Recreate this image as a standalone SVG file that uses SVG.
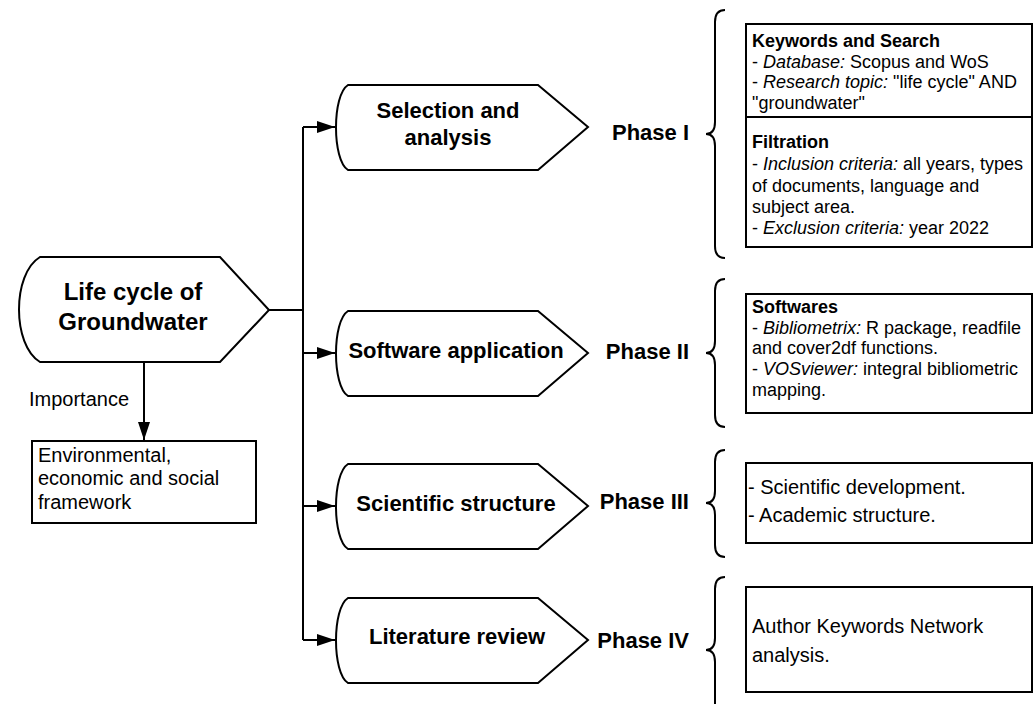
<svg xmlns="http://www.w3.org/2000/svg" width="1034" height="704" viewBox="0 0 1034 704">
<defs>
<style>
.shape{fill:#fff;stroke:#000;stroke-width:2}
.line{fill:none;stroke:#000;stroke-width:2}
.brace{fill:none;stroke:#000;stroke-width:2}
.tb{font-family:"Liberation Sans",Arial,sans-serif;font-weight:bold;fill:#000}
.t{font-family:"Liberation Sans",Arial,sans-serif;fill:#000}
.i{font-style:italic}
</style>
<marker id="arr" viewBox="0 0 18 12" refX="18" refY="6" markerWidth="18" markerHeight="12" markerUnits="userSpaceOnUse" orient="auto">
<path d="M0,0 L18,6 L0,12 Z" fill="#000"/>
</marker>
</defs>
<rect width="1034" height="704" fill="#fff"/>

<g id="connectors">
<path class="line" d="M269,310 H303"/>
<path class="line" d="M303,127 V640"/>
<path class="line" d="M303,127 H335" marker-end="url(#arr)"/>
<path class="line" d="M303,353 H335" marker-end="url(#arr)"/>
<path class="line" d="M303,506 H335" marker-end="url(#arr)"/>
<path class="line" d="M303,640 H335" marker-end="url(#arr)"/>
<path class="line" d="M144,362 V440" marker-end="url(#arr)"/>
<text class="t" x="29" y="406" font-size="20">Importance</text>
</g>

<g id="main-node">
<path class="shape" d="M40,257 L220,257 L269,310 L220,362 L40,362 C12,345 12,274 40,257 Z"/>
<text class="tb" font-size="24" text-anchor="middle"><tspan x="133" y="300">Life cycle of</tspan><tspan x="133" y="330">Groundwater</tspan></text>
</g>

<g id="importance-box">
<rect class="shape" x="32" y="441" width="224" height="82"/>
<text class="t" font-size="20"><tspan x="38" y="462">Environmental,</tspan><tspan x="38" y="485">economic and social</tspan><tspan x="38" y="509">framework</tspan></text>
</g>

<g id="phase1">
<path class="shape" d="M348,85 L538,85 L588,127 L538,170 L348,170 C332,160 332,95 348,85 Z"/>
<text class="tb" font-size="22" text-anchor="middle"><tspan x="448" y="118">Selection and</tspan><tspan x="448" y="145">analysis</tspan></text>
<text class="tb" font-size="22" x="689" y="140" text-anchor="end">Phase I</text>
<path class="brace" d="M725,10 Q715,10 715,22 L715,122 Q715,134 706,134 Q715,134 715,146 L715,246 Q715,258 725,258"/>
<rect class="shape" x="746" y="24" width="286" height="223"/>
<path class="line" d="M746,117 H1032"/>
<text class="t" font-size="18">
<tspan x="752" y="47" font-weight="bold">Keywords and Search</tspan>
<tspan x="752" y="68">- <tspan class="i">Database:</tspan> Scopus and WoS</tspan>
<tspan x="752" y="88">- <tspan class="i">Research topic:</tspan> "life cycle" AND</tspan>
<tspan x="752" y="109">"groundwater"</tspan>
<tspan x="752" y="148" font-weight="bold">Filtration</tspan>
<tspan x="752" y="170">- <tspan class="i">Inclusion criteria:</tspan> all years, types</tspan>
<tspan x="752" y="192">of documents, language and</tspan>
<tspan x="752" y="213">subject area.</tspan>
<tspan x="752" y="234">- <tspan class="i">Exclusion criteria:</tspan> year 2022</tspan>
</text>
</g>

<g id="phase2">
<path class="shape" d="M348,311 L538,311 L588,353 L538,396 L348,396 C332,386 332,321 348,311 Z"/>
<text class="tb" font-size="22" x="456" y="358" text-anchor="middle">Software application</text>
<text class="tb" font-size="22" x="689" y="359" text-anchor="end">Phase II</text>
<path class="brace" d="M725,279 Q715,279 715,291 L715,341 Q715,353 706,353 Q715,353 715,365 L715,415 Q715,427 725,427"/>
<rect class="shape" x="746" y="294" width="286" height="119"/>
<text class="t" font-size="18">
<tspan x="752" y="313" font-weight="bold">Softwares</tspan>
<tspan x="752" y="334">- <tspan class="i">Bibliometrix:</tspan> R package, readfile</tspan>
<tspan x="752" y="354">and cover2df functions.</tspan>
<tspan x="752" y="375">- <tspan class="i">VOSviewer:</tspan> integral bibliometric</tspan>
<tspan x="752" y="396">mapping.</tspan>
</text>
</g>

<g id="phase3">
<path class="shape" d="M348,464 L538,464 L588,506 L538,549 L348,549 C332,539 332,474 348,464 Z"/>
<text class="tb" font-size="22" x="456" y="511" text-anchor="middle">Scientific structure</text>
<text class="tb" font-size="22" x="689" y="509" text-anchor="end">Phase III</text>
<path class="brace" d="M725,450 Q715,450 715,462 L715,491 Q715,503 706,503 Q715,503 715,515 L715,545 Q715,557 725,557"/>
<rect class="shape" x="746" y="463" width="286" height="80"/>
<text class="t" font-size="20">
<tspan x="748" y="494">- Scientific development.</tspan>
<tspan x="748" y="522">- Academic structure.</tspan>
</text>
</g>

<g id="phase4">
<path class="shape" d="M348,598 L538,598 L588,640 L538,683 L348,683 C332,673 332,608 348,598 Z"/>
<text class="tb" font-size="22" x="457" y="644" text-anchor="middle">Literature review</text>
<text class="tb" font-size="22" x="689" y="648" text-anchor="end">Phase IV</text>
<path class="brace" d="M725,577 Q715,577 715,589 L715,638 Q715,650 706,650 Q715,650 715,662 L715,711 Q715,723 725,723"/>
<rect class="shape" x="746" y="587" width="286" height="105"/>
<text class="t" font-size="20">
<tspan x="752" y="633">Author Keywords Network</tspan>
<tspan x="752" y="662">analysis.</tspan>
</text>
</g>
</svg>
